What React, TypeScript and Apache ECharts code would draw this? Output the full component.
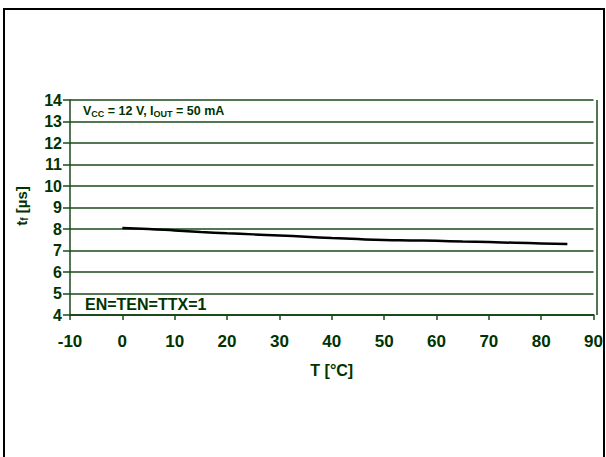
import React, { useEffect, useRef } from "react";
import * as echarts from "echarts";

const temps = [0, 5, 10, 15, 20, 25, 30, 35, 40, 45, 50, 55, 60, 65, 70, 75, 80, 85];
const tfValues = [8.05, 8.0, 7.93, 7.86, 7.8, 7.75, 7.7, 7.64, 7.58, 7.53, 7.49, 7.47, 7.45, 7.42, 7.39, 7.36, 7.33, 7.3];
const xTicks = { min: -10, max: 90, interval: 10 };
const yTicks = { min: 4, max: 14, interval: 1 };

const GREEN = "#003300";
const GRID = "#1a4a1a";
const FONT = "Liberation Sans";

export default function App() {
  const ref = useRef<HTMLDivElement>(null);
  useEffect(() => {
    const chart = echarts.init(ref.current!, undefined, { renderer: "svg" });
    chart.setOption({
      animation: false,
      backgroundColor: "#ffffff",
      grid: { left: 70, right: 9, top: 100, bottom: 142, containLabel: false, show: false },
      xAxis: {
        type: "value",
        min: xTicks.min,
        max: xTicks.max,
        interval: xTicks.interval,
        name: "T [°C]",
        nameLocation: "middle",
        nameGap: 47,
        nameTextStyle: { color: GREEN, fontFamily: FONT, fontWeight: "bold", fontSize: 16 },
        axisLine: { show: true, onZero: false, lineStyle: { color: GRID, width: 2 } },
        axisTick: { show: true, length: 5, inside: false, lineStyle: { color: GRID, width: 1.5 } },
        axisLabel: { color: GREEN, fontFamily: FONT, fontWeight: "bold", fontSize: 17, margin: 18 },
        splitLine: { show: false },
      },
      yAxis: {
        type: "value",
        min: yTicks.min,
        max: yTicks.max,
        interval: yTicks.interval,
        axisLine: { show: true, onZero: false, lineStyle: { color: GRID, width: 1.5 } },
        axisTick: { show: true, length: 7, inside: false, lineStyle: { color: GRID, width: 1.5 } },
        axisLabel: {
          color: GREEN,
          fontFamily: FONT,
          fontWeight: "bold",
          fontSize: 16,
          margin: 8,
          padding: [6, 0, 0, 0],
        },
        splitLine: { show: true, lineStyle: { color: GRID, width: 1.5 } },
      },
      graphic: [
        {
          type: "rect",
          shape: { x: 4, y: 9, width: 600, height: 470 },
          style: { fill: "none", stroke: "#000", lineWidth: 2 },
          silent: true,
          z: -1,
        },
        {
          type: "line",
          shape: { x1: 597, y1: 100, x2: 597, y2: 315 },
          style: { stroke: GRID, lineWidth: 1.5 },
        },
        {
          type: "text",
          x: 83,
          y: 111,
          style: {
            text: "{a|V}{b|CC}{a| = 12 V, I}{b|OUT}{a| = 50 mA}",
            textVerticalAlign: "middle",
            rich: {
              a: { fontSize: 12.5, fontWeight: "bold", fontFamily: FONT, fill: GREEN, color: GREEN },
              b: { fontSize: 9, fontWeight: "bold", fontFamily: FONT, fill: GREEN, color: GREEN, padding: [6, 0, 0, 0] },
            },
          },
        },
        {
          type: "text",
          x: 85,
          y: 304,
          style: {
            text: "EN=TEN=TTX=1",
            fontSize: 16,
            fontWeight: "bold",
            fontFamily: FONT,
            fill: GREEN,
            textVerticalAlign: "middle",
          },
        },
        {
          type: "text",
          x: 21,
          y: 206,
          rotation: Math.PI / 2,
          style: {
            text: "{a|t}{b|f}{a| [µs]}",
            textAlign: "center",
            textVerticalAlign: "middle",
            rich: {
              a: { fontSize: 15, fontWeight: "bold", fontFamily: FONT, fill: GREEN, color: GREEN },
              b: { fontSize: 10, fontWeight: "bold", fontFamily: FONT, fill: GREEN, color: GREEN, padding: [6, 0, 0, 0] },
            },
          },
        },
      ],
      series: [
        {
          type: "line",
          data: temps.map((t, i) => [t, tfValues[i]]),
          showSymbol: false,
          smooth: true,
          lineStyle: { color: "#000", width: 2.5 },
        },
      ],
    });
    return () => chart.dispose();
  }, []);
  return <div ref={ref} style={{ width: 606, height: 457, position: "absolute", left: 0, top: 0 }} />;
}
